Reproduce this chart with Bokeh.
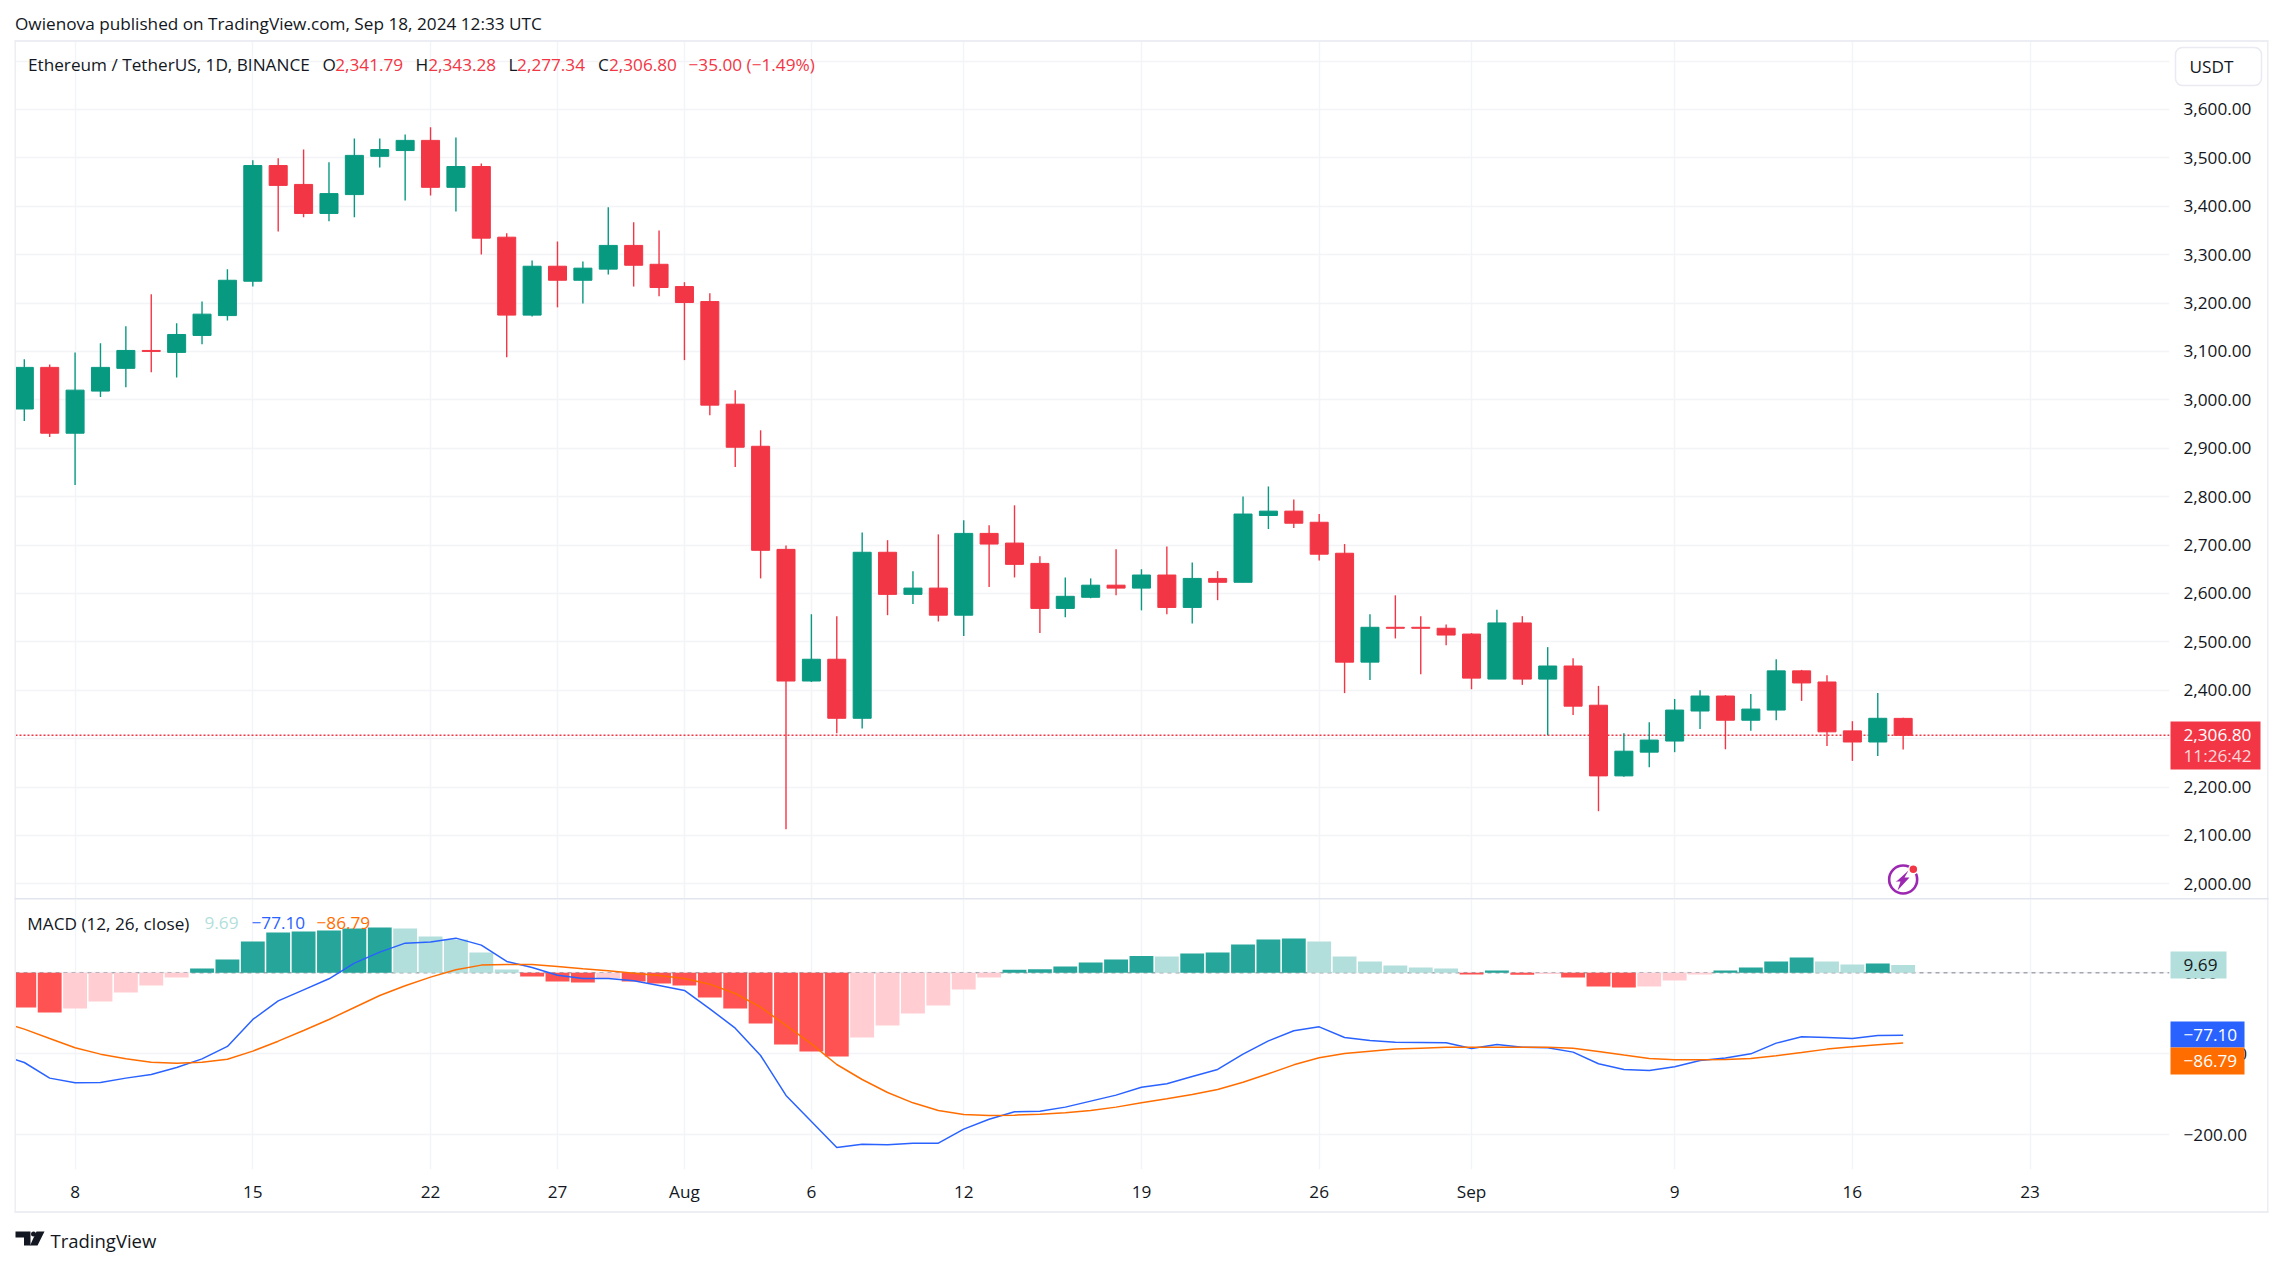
from bokeh.plotting import figure
from bokeh.layouts import column
from bokeh.models import (Range1d, FixedTicker, Span, Label, BoxAnnotation, PolyAnnotation,
                          ColumnDataSource)
from bokeh.embed import file_html
from bokeh.resources import INLINE

# ---- data (daily bars, index 0 = 6 Jul 2024) ----
opens = [2981,3067,2931,3018,3065,3102,3098,3133,3174,3245,3484,3445,3385,3424,3503,3515,3536,3439,3482,3336,
         3175,3276,3247,3270,3319,3280,3234,3203,2991,2904,2691,2419,2464,2342,2685,2598,2611,2555,2724,2704,
         2662,2569,2592,2617,2611,2638,2571,2631,2623,2761,2770,2747,2683,2458,2530,2530,2528,2516,2423,2539,
         2423,2450,2369,2223,2272,2295,2357,2388,2338,2359,2440,2417,2316,2293,2341.79]
highs = [3084,3073,3098,3117,3152,3218,3158,3203,3270,3495,3499,3517,3491,3540,3540,3548,3563,3542,3488,3344,
         3288,3327,3286,3398,3367,3350,3243,3220,3020,2937,2699,2557,2553,2726,2710,2646,2722,2751,2741,2782,
         2677,2633,2631,2691,2650,2697,2664,2646,2800,2821,2794,2764,2702,2557,2596,2553,2536,2518,2566,2553,
         2489,2466,2409,2311,2334,2382,2400,2390,2392,2464,2442,2431,2336,2394,2343.28]
lows = [2956,2923,2824,3006,3026,3057,3046,3115,3164,3234,3348,3377,3369,3377,3480,3412,3422,3389,3300,3088,
        3172,3191,3199,3259,3234,3214,3082,2968,2861,2631,2113,2417,2311,2321,2555,2578,2542,2512,2613,2633,
        2518,2551,2590,2596,2565,2557,2538,2586,2623,2733,2735,2668,2394,2421,2507,2433,2493,2402,2423,2411,
        2307,2349,2150,2221,2241,2272,2320,2278,2316,2338,2378,2285,2254,2264,2277.34]
closes = [3067,2931,3020,3067,3102,3100,3135,3177,3247,3484,3443,3385,3426,3505,3517,3536,3439,3482,3334,3175,
          3276,3247,3272,3319,3278,3232,3201,2989,2902,2689,2419,2464,2342,2685,2598,2611,2555,2724,2702,2660,
          2569,2594,2617,2611,2638,2571,2631,2623,2764,2770,2745,2681,2458,2530,2528,2528,2514,2425,2539,2423,
          2450,2367,2223,2274,2297,2359,2388,2338,2361,2440,2415,2314,2293,2342,2306.80]

macd_hist = [-42.8,-49.0,-44.0,-35.4,-24.3,-15.6,-5.8,5.3,16.5,38.7,49.8,51.0,52.3,54.7,56.0,54.7,44.9,41.2,25.1,4.1,
             -4.5,-10.7,-11.9,-6.6,-10.7,-13.2,-15.6,-30.5,-44.0,-62.6,-88.5,-97.1,-103.3,-79.8,-65.0,-50.2,-40.3,-20.6,-5.8,3.7,
             4.3,7.8,12.8,16.5,20.6,20.2,23.9,25.1,35.0,41.2,42.4,38.7,20.2,14.0,9.1,6.6,5.3,-2.1,2.9,-2.5,
             -1.6,-5.8,-16.9,-18.1,-16.9,-9.5,-2.1,2.9,6.6,14.0,18.9,14.0,10.3,11.5,9.69]
# the two lines start one bar before the first candle
macd_line = [-100.8,-110.7,-130.0,-135.8,-135.4,-130.0,-125.5,-116.9,-106.2,-90.9,-57.6,-34.6,-21.0,-7.4,11.9,25.5,36.6,37.9,42.8,34.2,
             14.0,6.6,-2.9,-7.0,-7.0,-9.9,-15.6,-21.8,-44.4,-68.3,-102.1,-151.4,-183.5,-215.6,-211.5,-212.3,-210.3,-210.3,-193.0,-180.7,
             -171.6,-170.8,-165.8,-158.4,-151.0,-141.2,-137.0,-128.0,-119.3,-100.4,-84.0,-71.6,-66.7,-79.8,-83.5,-85.6,-86.0,-86.4,-93.4,-88.5,
             -91.8,-92.6,-97.9,-112.3,-119.3,-120.6,-116.0,-108.2,-105.3,-100.0,-86.8,-79.0,-79.8,-81.1,-77.4,-77.10]
signal_line = [-59.7,-69.5,-81.1,-92.6,-100.4,-106.2,-110.3,-111.5,-110.3,-106.6,-96.7,-84.4,-71.2,-57.6,-42.8,-28.0,-16.0,-5.3,3.7,9.5,
               10.3,10.3,7.8,4.9,2.5,-0.4,-3.3,-7.0,-14.0,-25.5,-42.4,-65.0,-87.7,-113.2,-131.7,-147.7,-160.5,-170.0,-174.9,-176.1,
               -175.7,-174.5,-172.8,-170.0,-165.8,-160.5,-155.6,-150.2,-144.0,-135.0,-124.7,-113.6,-104.9,-99.6,-96.7,-94.2,-93.0,-91.8,-91.8,-91.8,
               -91.8,-91.8,-93.0,-97.1,-101.6,-105.8,-107.4,-107.4,-107.0,-105.8,-102.5,-98.4,-94.2,-91.4,-88.9,-86.79]

time_ticks = [2, 9, 16, 21, 26, 31, 37, 44, 51, 57, 65, 72, 79]
time_labels = ["8", "15", "22", "27", "Aug", "6", "12", "19", "26", "Sep", "9", "16", "23"]
price_ticks = [2000, 2100, 2200, 2300, 2400, 2500, 2600, 2700, 2800, 2900, 3000, 3100, 3200, 3300, 3400, 3500, 3600, 3700]
macd_ticks = [0, -100, -200]
macd_tick_labels = ["0.00", "\u2212100.00", "\u2212200.00"]

# ---- styles ----
UP, DOWN = "#089981", "#F23645"
GRID, BORDER, INK = "#F3F4F8", "#EDEEF4", "#131722"
FONT, FS = "Open Sans", "17.2px"
X_RANGE = (-0.3466, 84.49)

n = len(closes)
days = list(range(n))
cols = [UP if c >= o else DOWN for o, c in zip(opens, closes)]
src = ColumnDataSource(dict(x=days, o=opens, h=highs, l=lows, c=closes, col=cols))


def style(fig):
    fig.background_fill_color = "white"
    fig.border_fill_color = "white"
    fig.outline_line_color = None
    fig.xgrid.ticker = FixedTicker(ticks=time_ticks)
    fig.xgrid.grid_line_color = GRID
    fig.xgrid.grid_line_width = 1.5
    fig.ygrid.grid_line_color = GRID
    fig.ygrid.grid_line_width = 1.5
    ax = fig.yaxis[0]
    ax.axis_line_color = None
    ax.major_tick_line_color = None
    ax.minor_tick_line_color = None
    ax.major_tick_out = 0
    ax.major_label_standoff = 14
    ax.major_label_text_font = FONT
    ax.major_label_text_font_size = FS
    ax.major_label_text_color = INK


# ---- price pane ----
p = figure(width=2275, height=899, output_backend="svg", toolbar_location=None,
           x_range=Range1d(*X_RANGE), y_range=Range1d(1967.6, 3740.3),
           x_axis_location=None, y_axis_location="right",
           min_border_left=15, min_border_right=106, min_border_top=41, min_border_bottom=0)
style(p)
p.yaxis[0].ticker = FixedTicker(ticks=price_ticks)
p.yaxis[0].major_label_overrides = {t: ("" if t in (2300, 3700) else f"{t:,.2f}") for t in price_ticks}

p.add_layout(Span(location=closes[-1], dimension="width", line_color=DOWN, line_width=1.5,
                  line_dash="2 2", level="underlay"))
p.segment("x", "h", "x", "l", source=src, color="col", line_width=1.4)
p.vbar("x", 0.71, "o", "c", source=src, fill_color="col", line_color="col", line_width=1)

# flash icon over the last bar
p.scatter([days[-1]], [2009], size=28, marker="circle", fill_color="white", line_color="#9C27B0", line_width=2.6)
p.scatter([days[-1] + 0.4], [2030], size=9, marker="circle", fill_color="#F23645", line_color="white", line_width=1.5)

# ---- MACD pane ----
m = figure(width=2275, height=358, output_backend="svg", toolbar_location=None,
           x_range=p.x_range, y_range=Range1d(-242.8, 90.5),
           x_axis_location="below", y_axis_location="right",
           min_border_left=15, min_border_right=106, min_border_top=0, min_border_bottom=88)
style(m)
m.yaxis[0].ticker = FixedTicker(ticks=macd_ticks)
m.yaxis[0].major_label_overrides = dict(zip(macd_ticks, macd_tick_labels))
xa = m.xaxis[0]
xa.ticker = FixedTicker(ticks=time_ticks)
xa.major_label_overrides = dict(zip(time_ticks, time_labels))
xa.axis_line_color = None
xa.major_tick_line_color = None
xa.minor_tick_line_color = None
xa.major_tick_out = 0
xa.major_label_standoff = 10
xa.major_label_text_font = FONT
xa.major_label_text_font_size = FS
xa.major_label_text_color = INK

hist_cols = []
prev = -40.0
for v in macd_hist:
    if v >= 0:
        hist_cols.append("#26A69A" if v > prev else "#B2DFDB")
    else:
        hist_cols.append("#FF5252" if v < prev else "#FFCDD2")
    prev = v
m.add_layout(Span(location=0, dimension="width", line_color="#A5A7AF", line_width=1.5,
                  line_dash="4 4", level="underlay"))
m.vbar(days, 0.94, 0, macd_hist, fill_color=hist_cols, line_color=None)
line_days = [-1] + days
m.line(line_days, macd_line, line_color="#2962FF", line_width=1.5)
m.line(line_days, signal_line, line_color="#FF6D00", line_width=1.5)

# ---- transparent page overlay: frame, header, tags, footer ----
ov = figure(frame_width=2275, frame_height=1257, output_backend="svg", toolbar_location=None,
            x_range=Range1d(0, 2275), y_range=Range1d(1257, 0),
            x_axis_location=None, y_axis_location=None, frame_align=False,
            min_border_left=0, min_border_right=0, min_border_top=0, min_border_bottom=0,
            background_fill_color=None, border_fill_color=None, outline_line_color=None,
            styles={"position": "absolute", "left": "0px", "top": "0px", "z-index": "10"})
ov.grid.visible = False


def text(x, y, s, color=INK, size=FS):
    ov.add_layout(Label(x=x, y=y, x_units="canvas", y_units="canvas", text=s,
                        text_color=color, text_font=FONT, text_font_size=size,
                        text_baseline="middle", text_align="left"))


def box(x0, x1, y0, y1, color, **kw):
    ov.add_layout(BoxAnnotation(left=x0, right=x1, top=y0, bottom=y1,
                                left_units="canvas", right_units="canvas",
                                top_units="canvas", bottom_units="canvas",
                                fill_color=color, fill_alpha=1,
                                line_alpha=kw.pop("line_alpha", 0), **kw))


def poly(xs, ys, color):
    ov.add_layout(PolyAnnotation(xs=xs, ys=ys, xs_units="canvas", ys_units="canvas",
                                 fill_color=color, fill_alpha=1, line_alpha=0))


# frame
box(14, 2268, 39.5, 41.5, BORDER)
box(14, 15.5, 40, 1212, BORDER)
box(2266.5, 2268, 40, 1212, BORDER)
box(14, 2268, 897.5, 899, "#E3E5EE")
box(14, 2268, 1210.5, 1212.5, BORDER)

# bolt of the flash icon
poly([1897, 1908, 1904, 1909, 1897, 1900, 1895], [880, 870, 877, 877, 890, 881, 881], "#9C27B0")

text(14.5, 23, "Owienova published on TradingView.com, Sep 18, 2024 12:33 UTC")
text(27.5, 64, "Ethereum / TetherUS, 1D, BINANCE")
for lx, letter, vx, val in [(322, "O", 334.7, "2,341.79"), (415, "H", 427.7, "2,343.28"),
                            (508, "L", 516.6, "2,277.34"), (597.6, "C", 608.5, "2,306.80")]:
    text(lx, 64, letter)
    text(vx, 64, val, DOWN)
text(688, 64, "\u221235.00 (\u22121.49%)", DOWN)

# USDT button
box(2175, 2261, 47, 85, "white", line_alpha=1, line_color="#E9EAF2", line_width=1.5, border_radius=7)
text(2189, 65.5, "USDT")

# last-price tag
box(2170, 2260, 721, 769, DOWN)
text(2183, 734, "2,306.80", "white")
text(2183, 755, "11:26:42", "#FCD7DA")

text(26.8, 922.7, "MACD (12, 26, close)")
text(204, 922.7, "9.69", "#B2DFDB")
text(251, 922.7, "\u221277.10", "#2962FF")
text(316, 922.7, "\u221286.79", "#FF6D00")

box(2170, 2226, 951, 978, "#B2DFDB")
text(2183, 964.5, "9.69")
box(2170, 2244, 1021, 1047, "#2962FF")
text(2183, 1034, "\u221277.10", "white")
box(2170, 2244, 1047, 1074, "#FF6D00")
text(2183, 1060.5, "\u221286.79", "white")

# footer
poly([15, 30, 30, 23.5, 23.5, 15], [1231, 1231, 1245, 1245, 1237, 1237], INK)
box(30.5, 35.5, 1231, 1236, INK, border_radius=3)
poly([36, 44, 37, 29.5], [1231, 1231, 1245, 1245], INK)
text(50, 1240, "TradingView", INK, "18.5px")

page = column(p, m, ov, spacing=0)
open("out.html", "w").write(file_html(page, INLINE))
